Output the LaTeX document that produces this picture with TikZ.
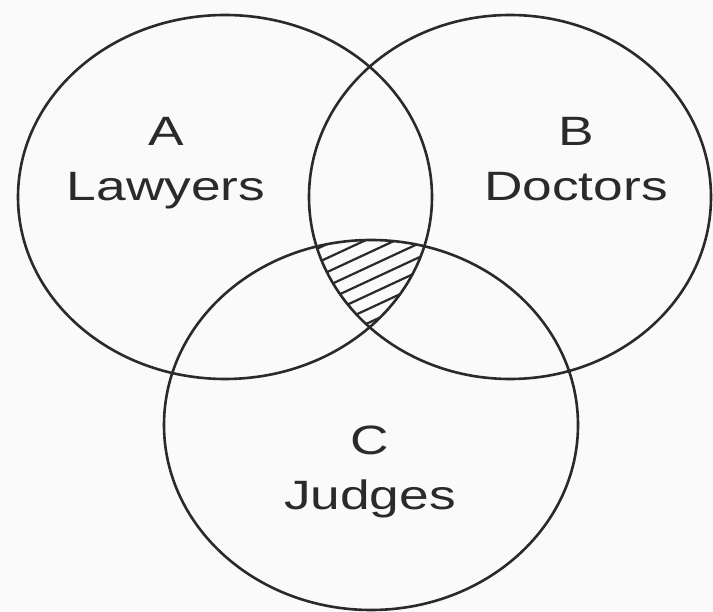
\documentclass[tikz,border=0pt]{standalone}
\usepackage{fontspec}
\setmainfont{Liberation Sans}
\definecolor{ink}{HTML}{2A2A2A}
\definecolor{paper}{HTML}{FAFAFA}
\begin{document}
\begin{tikzpicture}[x=1pt, y=-1pt]
  \tikzstyle{set} = [draw=ink, line width=2.6pt]
  \tikzstyle{hatch} = [draw=ink, line width=2.2pt]
  \tikzstyle{lab} = [text=ink, anchor=base, inner sep=0pt, xscale=1.3, font=\fontsize{41}{41}\selectfont]
  \fill[paper] (0,0) rectangle (713,612);
  \useasboundingbox (0,0) rectangle (713,612);
  \coordinate (A) at (225,197);
  \coordinate (B) at (510,197);
  \coordinate (C) at (371,425);
  % shaded part: all three sets
  \begin{scope}
    \clip (A) ellipse [x radius=207, y radius=182];
    \clip (B) ellipse [x radius=201, y radius=182];
    \clip (C) ellipse [x radius=207, y radius=185];
    \foreach \k in {0,...,12}
      \draw[hatch] (280, 252+14*\k) -- +(200, -93);
  \end{scope}
  \draw[set] (A) ellipse [x radius=207, y radius=182];
  \draw[set] (B) ellipse [x radius=201, y radius=182];
  \draw[set] (C) ellipse [x radius=207, y radius=185];
  \node[lab] (letA) at (166,146) {A};
  \node[lab] (nameA) at (166,201) {Lawyers};
  \node[lab] (letB) at (576,146) {B};
  \node[lab] (nameB) at (576,201) {Doctors};
  \node[lab] (letC) at (370,455) {C};
  \node[lab] (nameC) at (370,510) {Judges};
\end{tikzpicture}
\end{document}
